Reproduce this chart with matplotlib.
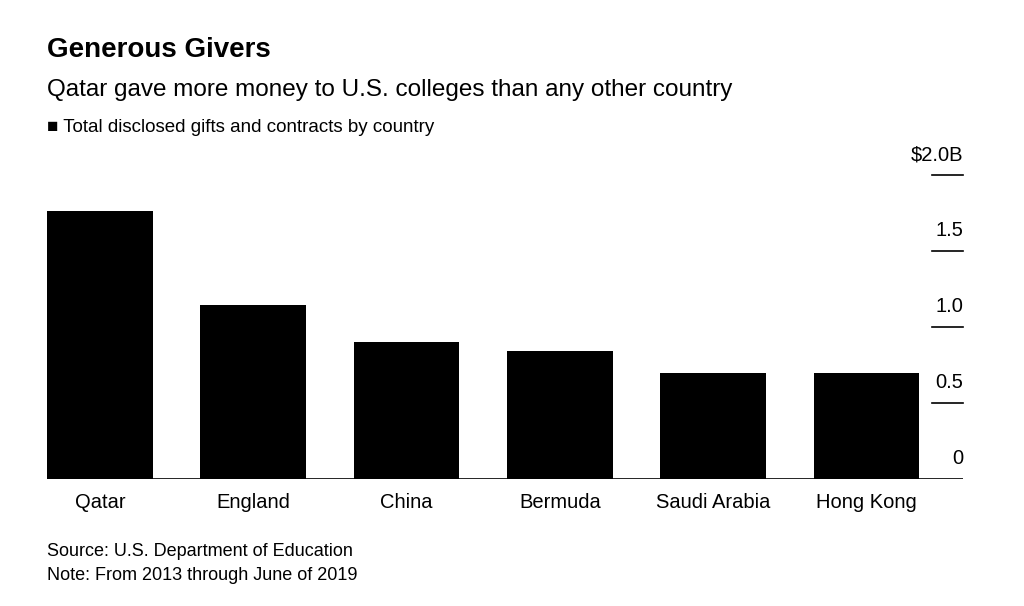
import matplotlib
matplotlib.use("Agg")
from matplotlib import pyplot as plt
import matplotlib.transforms as mtransforms

countries = ['Qatar', 'England', 'China', 'Bermuda', 'Saudi Arabia', 'Hong Kong']
gifts_bn = [1.76, 1.145, 0.90, 0.84, 0.70, 0.70]
tick_values = [0, 0.5, 1.0, 1.5, 2.0]
tick_labels = ['0', '0.5', '1.0', '1.5', '$2.0B']

plt.rcParams['font.family'] = 'Liberation Sans'

fig = plt.figure(figsize=(10.24, 6.06), dpi=100)
ax = fig.add_axes([47/1024, 1-479/606, 916/1024, 304/606])

x = range(len(countries))
ax.bar(x, gifts_bn, width=0.69, color='black')
ax.set_xlim(-0.345, 5.63)
ax.set_ylim(0, 2.0)
for s in ax.spines.values():
    s.set_visible(False)
ax.set_yticks([])
ax.set_xticks(list(x))
ax.set_xticklabels(countries, fontsize=14.5)
ax.tick_params(axis='x', length=0, pad=10)
ax.axhline(0, color='black', lw=1.2)

trans = mtransforms.blended_transform_factory(ax.transAxes, ax.transData)
for v, lab in zip(tick_values, tick_labels):
    if v > 0:
        ax.plot([1 - 31/916, 1], [v, v], color='black', lw=1.2, transform=trans, clip_on=False)
    ax.text(1, v + 0.07, lab, transform=trans, ha='right', va='bottom', fontsize=14.5)

fig.text(47/1024, 1-50/606, 'Generous Givers', fontsize=20, fontweight='bold', va='center')
fig.text(47/1024, 1-90/606, 'Qatar gave more money to U.S. colleges than any other country', fontsize=17.5, va='center')
fig.text(47/1024, 1-128/606, '\u25a0 Total disclosed gifts and contracts by country', fontsize=13.5, va='center')
fig.text(47/1024, 1-551/606, 'Source: U.S. Department of Education', fontsize=13, va='center')
fig.text(47/1024, 1-575/606, 'Note: From 2013 through June of 2019', fontsize=13, va='center')

fig.savefig('out.png', dpi=100, facecolor='white')
